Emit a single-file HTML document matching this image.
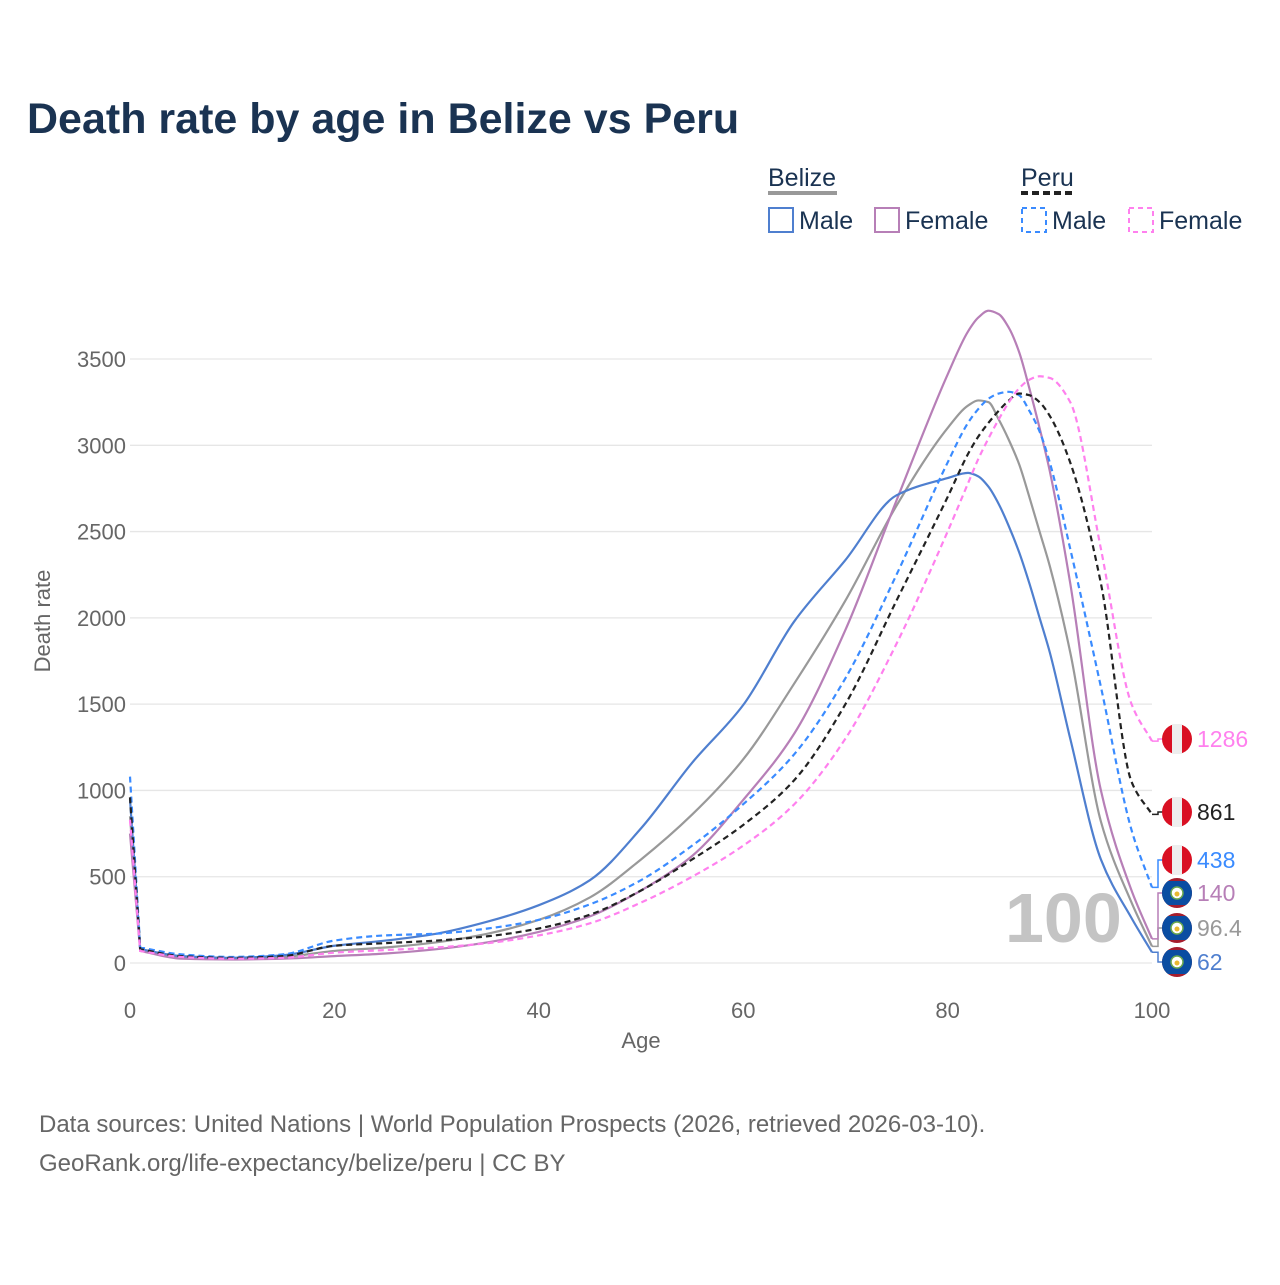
<!DOCTYPE html>
<html><head><meta charset="utf-8">
<style>
body{margin:0;background:#fff;}
svg text{font-family:"Liberation Sans",sans-serif;}
</style></head>
<body>
<svg id="chart" width="1280" height="1280" xmlns="http://www.w3.org/2000/svg">
<rect width="1280" height="1280" fill="#fff"/>
<text x="27" y="133" font-size="43" font-weight="bold" fill="#1a3352">Death rate by age in Belize vs Peru</text>
<g font-size="25" fill="#1a3352">
 <text x="768" y="186">Belize</text>
 <line x1="768" y1="193" x2="837" y2="193" stroke="#999" stroke-width="4"/>
 <text x="1021" y="186">Peru</text>
 <line x1="1021" y1="193" x2="1075" y2="193" stroke="#222" stroke-width="4" stroke-dasharray="7,4"/>
 <g><rect x="769" y="208" width="24" height="24" fill="none" stroke="#4f7fcf" stroke-width="2"/><text x="799" y="229">Male</text></g>
 <g><rect x="875" y="208" width="24" height="24" fill="none" stroke="#b77fb7" stroke-width="2"/><text x="905" y="229">Female</text></g>
 <g><rect x="1022" y="208" width="24" height="24" fill="none" stroke="#3a8bff" stroke-width="2" stroke-dasharray="5,4"/><text x="1052" y="229">Male</text></g>
 <g><rect x="1129" y="208" width="24" height="24" fill="none" stroke="#ff80ee" stroke-width="2" stroke-dasharray="5,4"/><text x="1159" y="229">Female</text></g>
</g>
<text x="1005" y="942" font-size="70" font-weight="bold" fill="#c4c4c4">100</text>
<g id="grid"></g>
<g id="series"></g>
<g id="labels"></g>
<text x="641" y="1048" font-size="22" fill="#666" text-anchor="middle">Age</text>
<text transform="translate(50,621) rotate(-90)" font-size="22" fill="#666" text-anchor="middle">Death rate</text>
<text x="39" y="1132" font-size="24" fill="#666">Data sources: United Nations | World Population Prospects (2026, retrieved 2026-03-10).</text>
<text x="39" y="1171" font-size="24" fill="#666">GeoRank.org/life-expectancy/belize/peru | CC BY</text>
</svg>
<script>
const ages = [0,1,5,10,15,20,25,30,35,40,45,50,55,60,65,70,75,80,82,83,84,85,86,87,88,89,90,92,95,98,100];
const belizeMale   = [950,80,40,30,45,100,130,170,240,335,480,780,1160,1495,1980,2335,2710,2810,2840,2820,2760,2660,2530,2380,2200,2000,1800,1300,600,260,62];
const belizeFemale = [750,70,25,20,25,40,55,80,120,180,270,420,620,945,1330,1930,2680,3410,3660,3740,3780,3760,3680,3540,3330,3100,2850,2200,1000,420,140];
const belizeTotal  = [850,75,32,25,35,70,90,120,170,250,380,600,860,1180,1620,2100,2650,3100,3230,3260,3250,3150,3030,2890,2700,2500,2300,1800,820,350,96.4];
const peruMale     = [1080,90,50,35,50,130,160,170,200,250,340,480,680,920,1210,1650,2250,2900,3130,3210,3270,3300,3310,3290,3200,3080,2900,2400,1600,770,438];
const peruTotal    = [960,80,40,30,40,100,115,130,155,200,280,420,600,800,1060,1500,2100,2700,2950,3050,3130,3200,3260,3300,3290,3250,3170,2900,2200,1050,861];
const peruFemale   = [830,70,35,25,30,60,75,90,115,160,230,350,500,680,920,1300,1850,2500,2780,2920,3040,3150,3250,3330,3380,3400,3390,3250,2400,1500,1286];
const xTicks = [0,20,40,60,80,100];
const yTicks = [0,500,1000,1500,2000,2500,3000,3500];
const NS='http://www.w3.org/2000/svg';
const X = a => 130 + a*10.22;
const Y = v => 963 - v*0.17257;
const grid=document.getElementById('grid');
function mk(tag,attrs,parent){const e=document.createElementNS(NS,tag);for(const k in attrs)e.setAttribute(k,attrs[k]);parent.appendChild(e);return e;}
yTicks.forEach(t=>{
 const l=mk('line',{x1:130,x2:1152,y1:Y(t),y2:Y(t),stroke:'#e6e6e6','stroke-width':1.3},grid);
 
 
 const tx=mk('text',{x:126,y:Y(t)+8,'font-size':22,fill:'#666','text-anchor':'end'},grid);
 tx.textContent=t;
 
 
});
xTicks.forEach(t=>{
 const tx=mk('text',{x:X(t),y:1018,'font-size':22,fill:'#666','text-anchor':'middle'},grid);
 tx.textContent=t;
 
 
});
function path(vals){
 // monotone cubic (Fritsch-Carlson) from index 1 onward; straight line from age 0 to 1
 const xs=ages.map(X), ys=vals.map(Y);
 const n=xs.length;
 let d='M'+xs[0]+','+ys[0]+' L'+xs[1]+','+ys[1];
 const dk=[], m=new Array(n).fill(0);
 for(let i=1;i<n-1;i++) dk[i]=(ys[i+1]-ys[i])/(xs[i+1]-xs[i]);
 m[1]=dk[1]; m[n-1]=dk[n-2];
 for(let i=2;i<n-1;i++){
  if(dk[i-1]*dk[i]<=0) m[i]=0;
  else { const h0=xs[i]-xs[i-1],h1=xs[i+1]-xs[i];
   const w1=2*h1+h0,w2=h1+2*h0; m[i]=(w1+w2)/(w1/dk[i-1]+w2/dk[i]); }
 }
 for(let i=1;i<n-1;i++){
  const h=(xs[i+1]-xs[i])/3;
  d+=' C'+(xs[i]+h)+','+(ys[i]+m[i]*h)+' '+(xs[i+1]-h)+','+(ys[i+1]-m[i+1]*h)+' '+xs[i+1]+','+ys[i+1];
 }
 return d;
}
const series=[
 ['belize-total',belizeTotal,'#999',null,'96.4',928,'bz'],
 ['belize-female',belizeFemale,'#b77fb7',null,'140',893,'bz'],
 ['belize-male',belizeMale,'#4f7fcf',null,'62',962,'bz'],
 ['peru-male',peruMale,'#3a8bff','6,4','438',860,'pe'],
 ['peru-total',peruTotal,'#222','6,4','861',812,'pe'],
 ['peru-female',peruFemale,'#ff80ee','6,4','1286',739,'pe'],
];
const sg=document.getElementById('series'), lg=document.getElementById('labels');
series.forEach(s=>{
 const a={d:path(s[1]),fill:'none',stroke:s[2],'stroke-width':2.2};
 if(s[3])a['stroke-dasharray']=s[3];
 const p=mk('path',a,sg);
 
 
 const ye=Y(s[1][s[1].length-1]), ly=s[5];
 const c=mk('path',{d:'M1152,'+ye+' H1158 V'+ly+' H1163',fill:'none',stroke:s[2],'stroke-width':1.5},lg);
 
 
 const g=mk('g',{},lg);
 
 
 const cx=1177;
 if(s[6]==='pe'){
  mk('circle',{cx:cx,cy:ly,r:15,fill:'#d91023'},g);
  mk('rect',{x:cx-5,y:ly-15,width:10,height:30,fill:'#eee'},g);
 } else {
  mk('clipPath',{id:'cp'+s[0]},g).appendChild(document.createElementNS(NS,'circle'));
  const cc=g.lastChild.firstChild; cc.setAttribute('cx',cx); cc.setAttribute('cy',ly); cc.setAttribute('r',15);
  const inner=mk('g',{'clip-path':'url(#cp'+s[0]+')'},g);
  mk('rect',{x:cx-15,y:ly-15,width:30,height:30,fill:'#a51d2d'},inner);
  mk('rect',{x:cx-15,y:ly-12,width:30,height:24,fill:'#0a4da2'},inner);
  mk('circle',{cx:cx,cy:ly,r:6,fill:'#fff',stroke:'#6aa84f','stroke-width':1.5},g);
  mk('circle',{cx:cx,cy:ly+1,r:2.5,fill:'#e8b830'},g);
 }
 const t=mk('text',{x:1197,y:ly+8,'font-size':23,fill:s[2]},lg);
 t.textContent=s[4];
 
 
});
</script>
</body></html>
